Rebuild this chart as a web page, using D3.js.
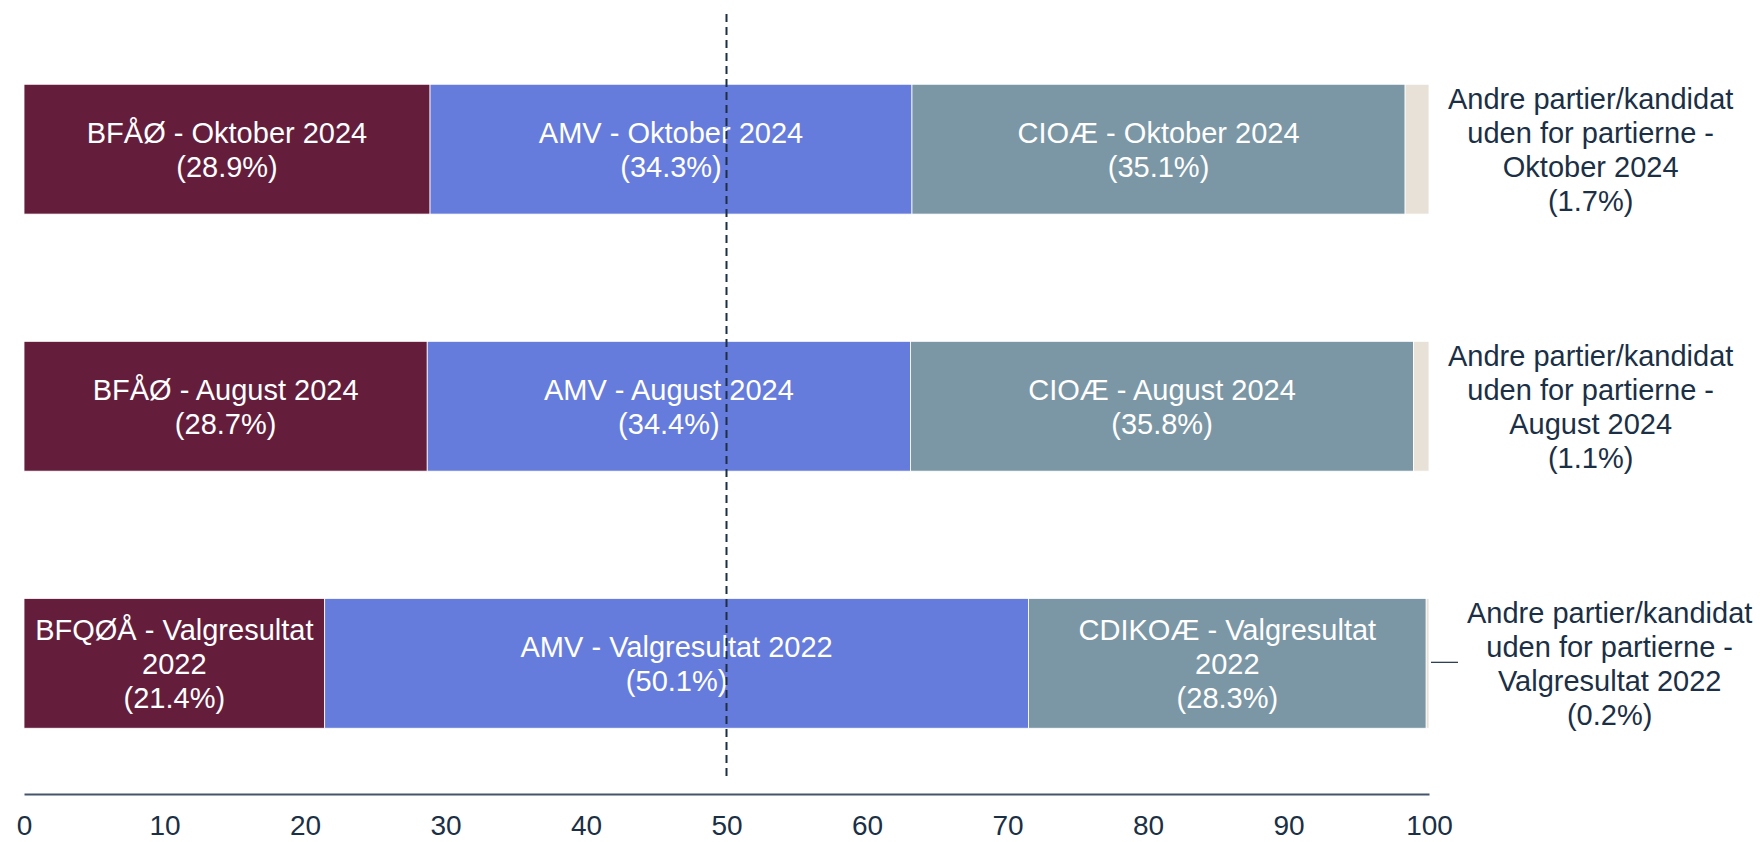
<!DOCTYPE html>
<html>
<head>
<meta charset="utf-8">
<script src="https://cdn.jsdelivr.net/npm/d3@7/dist/d3.min.js"></script>
<style>
  body { margin: 0; background: #fff; }
  text { font-family: "Liberation Sans", Arial, sans-serif; }
</style>
</head>
<body>
<div id="chart"></div>
<script>
// periods (one bar each), top to bottom
var periods = ["Oktober 2024", "August 2024", "Valgresultat 2022"];

// segment names per period
var namesBlue1 = ["BFÅØ", "BFÅØ", "BFQØÅ"];
var namesBlue2 = ["AMV", "AMV", "AMV"];
var namesBlue3 = ["CIOÆ", "CIOÆ", "CDIKOÆ"];
var namesOther = ["Andre partier/kandidat uden for partierne", "Andre partier/kandidat uden for partierne", "Andre partier/kandidat uden for partierne"];

// shares in percent
var valRed   = [28.9, 28.7, 21.4];
var valBlue  = [34.3, 34.4, 50.1];
var valGrey  = [35.1, 35.8, 28.3];
var valOther = [1.7, 1.1, 0.2];

var tickValues = [0, 10, 20, 30, 40, 50, 60, 70, 80, 90, 100];
var colors = ["#641E3C", "#667CDC", "#7B97A5", "#E8E1D7"];

var width = 1762, height = 842;
var ink = "#1B2F45";

var svg = d3.select("#chart").append("svg")
  .attr("width", width)
  .attr("height", height);

var x = d3.scaleLinear().domain([0, 100]).range([24, 1429]);
var y = d3.scaleBand().domain(periods).range([20, 792.5])
  .paddingInner(0.495).paddingOuter(0.25);

// build stacked rows
var rows = periods.map(function(p, i) {
  var segs = [
    { name: namesBlue1[i], v: valRed[i] },
    { name: namesBlue2[i], v: valBlue[i] },
    { name: namesBlue3[i], v: valGrey[i] },
    { name: namesOther[i], v: valOther[i] }
  ];
  var acc = 0;
  segs.forEach(function(s, k) {
    s.x0 = acc; acc += s.v; s.x1 = acc;
    s.period = p; s.k = k;
  });
  return { period: p, segs: segs };
});

// bars
var rowG = svg.selectAll("g.row").data(rows).enter().append("g")
  .attr("class", "row");

rowG.selectAll("rect").data(function(d) { return d.segs; })
  .enter().append("rect")
  .attr("x", function(d) { return x(d.x0); })
  .attr("y", function(d) { return y(d.period); })
  .attr("width", function(d) { return x(d.x1) - x(d.x0); })
  .attr("height", y.bandwidth())
  .attr("fill", function(d) { return colors[d.k]; })
  .attr("stroke", "#fff")
  .attr("stroke-width", 0.8);

var fs = 29, lh = 34, capH = fs * 0.716;

function measure(str) {
  var t = svg.append("text").attr("font-size", fs).text(str);
  var w = t.node().getComputedTextLength();
  t.remove();
  return w;
}

function drawLines(g, lines, cx, cy, fill) {
  var n = lines.length;
  var t = g.append("text")
    .attr("text-anchor", "middle")
    .attr("font-size", fs)
    .attr("fill", fill);
  lines.forEach(function(l, i) {
    t.append("tspan")
      .attr("x", cx)
      .attr("y", cy + (i - (n - 1) / 2) * lh + capH / 2)
      .text(l);
  });
}

// labels inside the bars
rows.forEach(function(r) {
  var cy = y(r.period) + y.bandwidth() / 2;
  r.segs.slice(0, 3).forEach(function(s) {
    var w = x(s.x1) - x(s.x0);
    var first = s.name + " - " + s.period;
    var lines;
    if (measure(first) > w * 0.85) {
      var words = first.split(" ");
      lines = [words.slice(0, -1).join(" "), words[words.length - 1]];
    } else {
      lines = [first];
    }
    lines.push("(" + s.v.toFixed(1) + "%)");
    drawLines(svg, lines, (x(s.x0) + x(s.x1)) / 2, cy, "#fff");
  });

  // outside label for the small segment
  var s = r.segs[3];
  var words = (s.name + " - " + s.period).split(" ");
  var lines = [], cur = "";
  words.forEach(function(wd) {
    var test = cur ? cur + " " + wd : wd;
    if (measure(test) > 300 && cur) { lines.push(cur); cur = wd; }
    else cur = test;
  });
  lines.push(cur);
  lines.push("(" + s.v.toFixed(1) + "%)");
  var maxW = d3.max(lines, measure);
  var left = x(100) + 19;
  if (x(s.x1) - x(s.x0) < 5) {
    // leader line
    svg.append("line")
      .attr("x1", x(100) + 2).attr("x2", x(100) + 29)
      .attr("y1", cy - 1).attr("y2", cy - 1)
      .attr("stroke", ink).attr("stroke-width", 1.2);
    left += 19;
  }
  drawLines(svg, lines, left + maxW / 2, cy, ink);
});

// axis
var axisY = 794;
var axis = svg.append("g")
  .attr("transform", "translate(0," + axisY + ")")
  .call(d3.axisBottom(x).tickValues(tickValues).tickSize(0).tickPadding(0));
axis.select(".domain").attr("stroke", "#44546A").attr("stroke-width", 2);
axis.selectAll("text")
  .attr("font-size", 28)
  .attr("font-family", "Liberation Sans, Arial, sans-serif")
  .attr("fill", ink)
  .attr("dy", null)
  .attr("y", 41);

// 50% reference line
svg.append("line")
  .attr("x1", x(50)).attr("x2", x(50))
  .attr("y1", 14).attr("y2", 776)
  .attr("stroke", ink)
  .attr("stroke-width", 2)
  .attr("stroke-dasharray", "8,5");
</script>
</body>
</html>
